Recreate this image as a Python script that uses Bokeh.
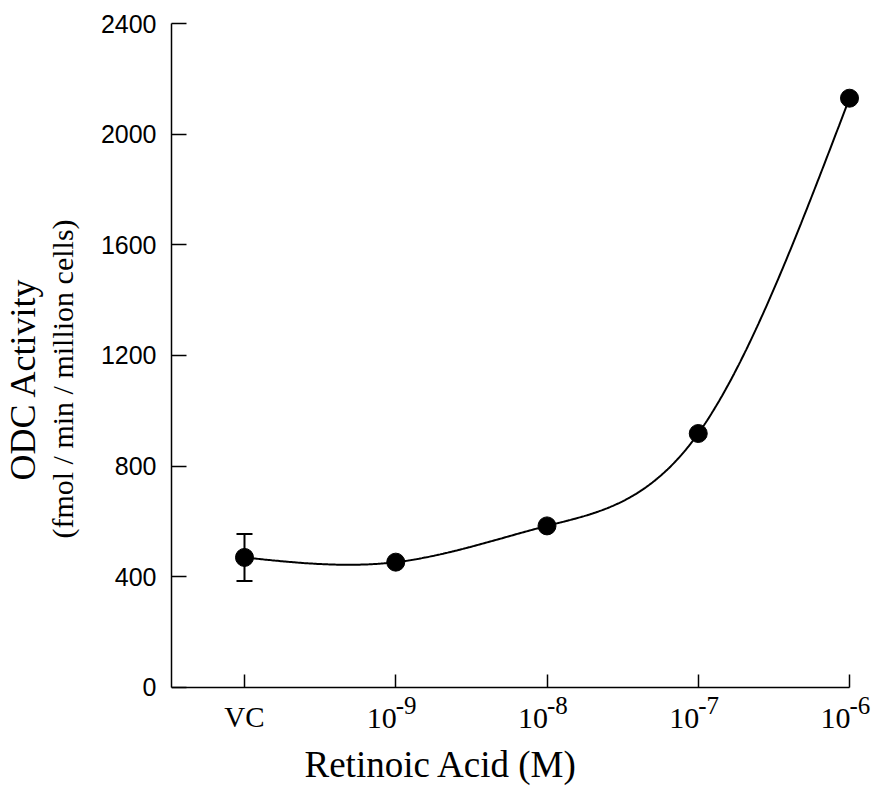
import numpy as np
from bokeh.plotting import figure
from bokeh.models import (ColumnDataSource, FixedTicker, Range1d, Whisker, Title)
from bokeh.core.properties import value
from bokeh.embed import file_html
from bokeh.resources import INLINE

# ---- data ----
categories = ["VC", "1e-9", "1e-8", "1e-7", "1e-6"]
tick_base = ["VC", "10", "10", "10", "10"]
tick_sup = ["", "-9", "-8", "-7", "-6"]
odc_activity = [470, 453, 584, 918, 2130]
odc_error = [85, 0, 0, 0, 0]
y_ticks = [0, 400, 800, 1200, 1600, 2000, 2400]

x = np.arange(len(categories), dtype=float)
y = np.array(odc_activity, dtype=float)
err = np.array(odc_error, dtype=float)

# smooth curve through the points (natural cubic spline)
def natural_spline(xk, yk, n=400):
    m = len(xk)
    h = np.diff(xk)
    A = np.zeros((m, m))
    b = np.zeros(m)
    A[0, 0] = 1
    A[-1, -1] = 1
    for i in range(1, m - 1):
        A[i, i - 1] = h[i - 1]
        A[i, i] = 2 * (h[i - 1] + h[i])
        A[i, i + 1] = h[i]
        b[i] = 6 * ((yk[i + 1] - yk[i]) / h[i] - (yk[i] - yk[i - 1]) / h[i - 1])
    M = np.linalg.solve(A, b)
    xs = np.linspace(xk[0], xk[-1], n)
    ys = np.empty_like(xs)
    for j, xv in enumerate(xs):
        i = min(np.searchsorted(xk, xv, side="right") - 1, m - 2)
        t0 = xk[i + 1] - xv
        t1 = xv - xk[i]
        ys[j] = (M[i] * t0 ** 3 / (6 * h[i]) + M[i + 1] * t1 ** 3 / (6 * h[i])
                 + (yk[i] / h[i] - M[i] * h[i] / 6) * t0
                 + (yk[i + 1] / h[i] - M[i + 1] * h[i] / 6) * t1)
    return xs, ys

cx, cy = natural_spline(x, y)

p = figure(output_backend="svg", toolbar_location=None,
           frame_width=701, frame_height=711,
           x_range=Range1d(-0.4826, 4.152), y_range=Range1d(-170, 2400),
           min_border_left=164, min_border_right=0, min_border_top=23, min_border_bottom=0)
p.background_fill_color = "white"
p.border_fill_color = "white"
p.outline_line_color = None
p.grid.visible = False

p.line(cx, cy, line_color="black", line_width=2)

src = ColumnDataSource(dict(x=x, y=y))
eb_src = ColumnDataSource(dict(x=x[err > 0], upper=(y + err)[err > 0], lower=(y - err)[err > 0]))
w = Whisker(base="x", upper="upper", lower="lower", source=eb_src,
            line_color="black", line_width=2)
w.upper_head.size = 16
w.lower_head.size = 16
w.upper_head.line_width = 2
w.lower_head.line_width = 2
p.add_layout(w)
p.scatter("x", "y", source=src, size=18, marker="circle",
          fill_color="black", line_color="black")

# y axis
yax = p.yaxis[0]
yax.ticker = FixedTicker(ticks=y_ticks)
yax.bounds = (0, 2400)
yax.major_tick_in = 15
yax.major_tick_out = 0
yax.minor_tick_line_color = None
yax.axis_line_width = 1.5
yax.major_tick_line_width = 1.5
yax.major_label_text_font = "Liberation Sans"
yax.major_label_text_font_size = "25px"
yax.major_label_text_color = "black"
yax.major_label_standoff = 15
yax.axis_label = "(fmol / min / million cells)"
yax.axis_label_text_font = "Liberation Serif"
yax.axis_label_text_font_size = "30px"
yax.axis_label_text_font_style = "normal"
yax.axis_label_text_color = "black"
yax.axis_label_standoff = 19

# x axis (drawn at y = 0)
xax = p.xaxis[0]
xax.fixed_location = 0
xax.ticker = FixedTicker(ticks=list(x))
xax.bounds = (-0.4826, 4.0)
xax.major_tick_in = 13
xax.major_tick_out = 0
xax.minor_tick_line_color = None
xax.axis_line_width = 1.5
xax.major_tick_line_width = 1.5
xax.major_label_overrides = {float(v): "" for v in x}
xax.major_label_overrides.update({int(v): "" for v in x})
xax.axis_label = None

# x tick labels (base + superscript)
sup_mask = [s != "" for s in tick_sup]
base_src = ColumnDataSource(dict(x=x[sup_mask], y=np.zeros(sum(sup_mask)),
                                 text=[b for b, m in zip(tick_base, sup_mask) if m]))
sup_src = ColumnDataSource(dict(x=x[sup_mask], y=np.zeros(sum(sup_mask)),
                                text=[s for s in tick_sup if s]))
plain_mask = [not m for m in sup_mask]
plain_src = ColumnDataSource(dict(x=x[plain_mask], y=np.zeros(sum(plain_mask)),
                                  text=[b for b, m in zip(tick_base, plain_mask) if m]))
p.text("x", "y", text="text", source=base_src, text_align="right",
       text_baseline="alphabetic", x_offset=1, y_offset=31,
       text_font=value("Liberation Serif"), text_font_size=value("30px"), text_color="black")
p.text("x", "y", text="text", source=sup_src, text_align="left",
       text_baseline="alphabetic", x_offset=0, y_offset=18,
       text_font=value("Liberation Serif"), text_font_size=value("25px"), text_color="black")
p.text("x", "y", text="text", source=plain_src, text_align="center",
       text_baseline="alphabetic", x_offset=0, y_offset=30,
       text_font=value("Liberation Serif"), text_font_size=value("29px"), text_color="black")

# x axis title
tx = Title(text="Retinoic Acid (M)", align="left", offset=133,
           text_font="Liberation Serif", text_font_size="37px",
           text_font_style="normal", text_color="black", standoff=14)
p.add_layout(tx, "below")

# y axis title, first line
t1 = Title(text="ODC Activity", align="center",
           text_font="Liberation Serif", text_font_size="36px",
           text_font_style="normal", text_color="black", standoff=0,
           text_line_height=1.0)
p.add_layout(t1, "left")

open("out.html", "w").write(file_html(p, INLINE))
